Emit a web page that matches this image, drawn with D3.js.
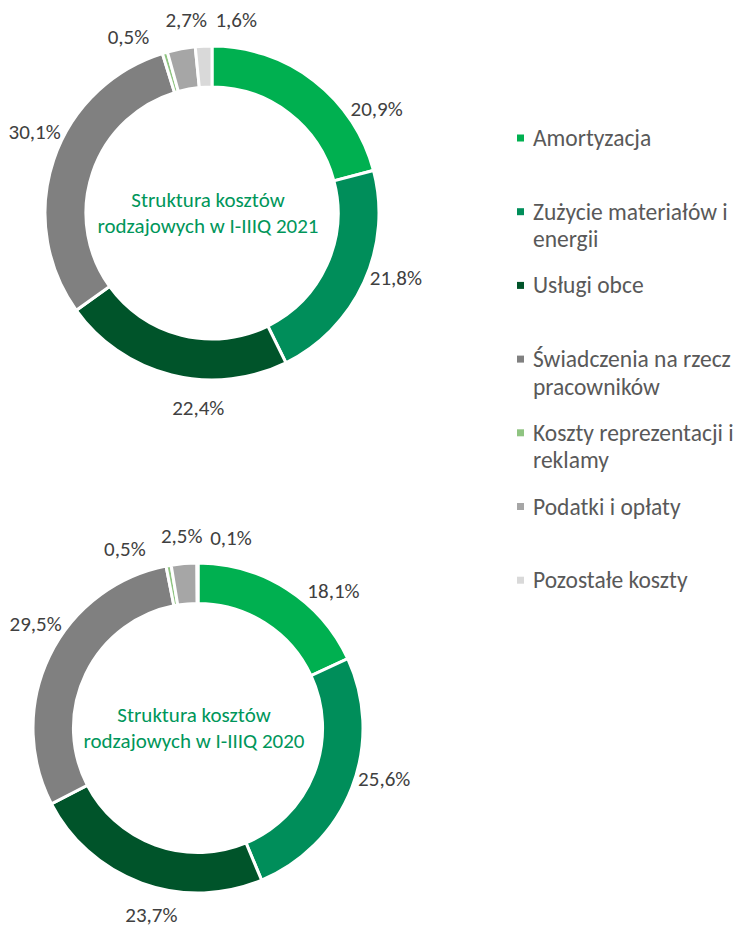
<!DOCTYPE html>
<html>
<head>
<meta charset="utf-8">
<script src="https://cdn.jsdelivr.net/npm/d3@7"></script>
<style>
    body { margin: 0; background: #fff; }
    svg text { font-family: Carlito, Calibri, Lato, sans-serif; }
</style>
</head>
<body>
<script>
    // data
    var categories = [
        'Amortyzacja',
        'Zużycie materiałów i\nenergii',
        'Usługi obce',
        'Świadczenia na rzecz\npracowników',
        'Koszty reprezentacji i\nreklamy',
        'Podatki i opłaty',
        'Pozostałe koszty'
    ];
    var values2021 = [20.9, 21.8, 22.4, 30.1, 0.5, 2.7, 1.6];
    var values2020 = [18.1, 25.6, 23.7, 29.5, 0.5, 2.5, 0.1];
    var title2021 = ['Struktura kosztów', 'rodzajowych w I-IIIQ 2021'];
    var title2020 = ['Struktura kosztów', 'rodzajowych w I-IIIQ 2020'];

    var palette = ['#00b050', '#008e5a', '#00542a', '#808080', '#8fc481', '#a6a6a6', '#d9d9d9'];
    var color = d3.scaleOrdinal(categories, palette);

    var pl = d3.formatLocale({decimal: ',', thousands: ' ', grouping: [3], currency: ['', '']});
    var pct = pl.format('.1f');

    var width = 744, height = 929;

    // layout (label angle nudges in degrees, labels were placed by hand in the original)
    var charts = [
        {values: values2021, title: title2021, cx: 212, cy: 213, r: 167, nudge: [20, -5, -10, 6, -9, 3, 10]},
        {values: values2020, title: title2020, cx: 198, cy: 728, r: 165, nudge: [12, -6, -6, 7, -12, 0, 10]}
    ];

    var svg = d3.select('body')
        .append('svg')
        .attr('width', width)
        .attr('height', height);

    var pie = d3.pie().sort(null).value(d => d);

    charts.forEach(function (c) {
        var g = svg.append('g')
            .attr('transform', 'translate(' + c.cx + ',' + c.cy + ')');

        var arc = d3.arc()
            .innerRadius(c.r * 0.755)
            .outerRadius(c.r);

        var arcs = pie(c.values);

        g.selectAll('path')
            .data(arcs)
            .enter()
            .append('path')
            .attr('d', arc)
            .attr('fill', (d, i) => color(categories[i]))
            .attr('stroke', '#fff')
            .attr('stroke-width', 3);

        // value labels
        var lr = c.r + 28;
        g.selectAll('text.lbl')
            .data(arcs)
            .enter()
            .append('text')
            .attr('class', 'lbl')
            .attr('transform', function (d, i) {
                var a = (d.startAngle + d.endAngle) / 2 + c.nudge[i] * Math.PI / 180;
                var p = d3.arc().innerRadius(lr).outerRadius(lr).startAngle(a).endAngle(a).centroid();
                return 'translate(' + p + ')';
            })
            .attr('text-anchor', 'middle')
            .attr('dominant-baseline', 'central')
            .attr('fill', '#404040')
            .style('font-size', '21px')
            .text(d => pct(d.data) + '%');

        // title in the hole
        g.selectAll('text.ttl')
            .data(c.title)
            .enter()
            .append('text')
            .attr('class', 'ttl')
            .attr('x', -4)
            .attr('y', (d, i) => -13 + i * 26)
            .attr('text-anchor', 'middle')
            .attr('dominant-baseline', 'central')
            .attr('fill', '#00965a')
            .style('font-size', '21px')
            .text(d => d);
    });

    // legend
    var legend = svg.append('g')
        .attr('transform', 'translate(517,138)');

    var item = legend.selectAll('g')
        .data(categories)
        .enter()
        .append('g')
        .attr('transform', (d, i) => 'translate(0,' + (i * 73.7) + ')');

    item.append('rect')
        .attr('x', 0)
        .attr('y', -3.5)
        .attr('width', 7)
        .attr('height', 7)
        .attr('fill', d => color(d));

    item.each(function (d) {
        var t = d3.select(this).append('text')
            .attr('fill', '#595959')
            .style('font-size', '23.5px');
        d.split('\n').forEach(function (line, j) {
            t.append('tspan')
                .attr('x', 16)
                .attr('y', j * 27.5)
                .attr('dominant-baseline', 'central')
                .text(line);
        });
    });
</script>
</body>
</html>
